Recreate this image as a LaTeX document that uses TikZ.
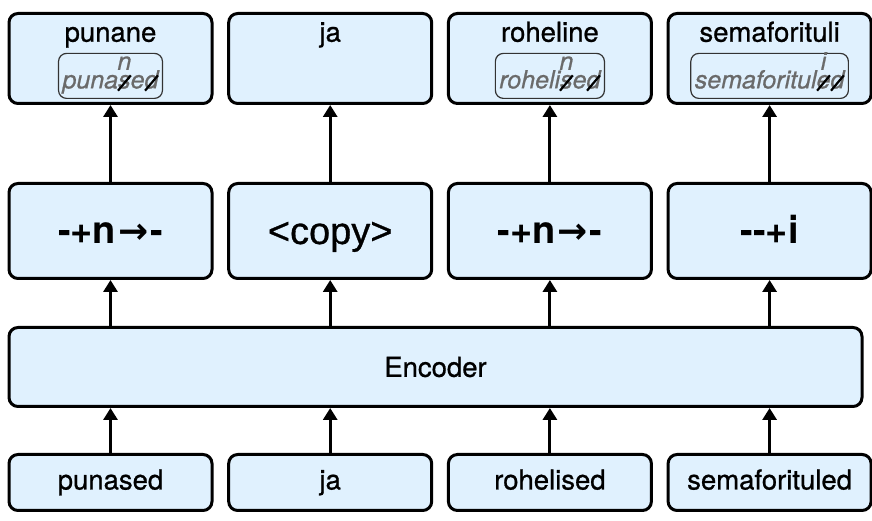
\documentclass[tikz,border=0pt]{standalone}
\usepackage{fontspec}
\setmainfont{TeX Gyre Heros}
\newfontfamily\medium[FakeBold=0.8]{TeX Gyre Heros}
\newfontfamily\bracketfont[FakeBold=0.8]{Liberation Sans}
\newfontfamily\arrowfont{DejaVu Sans}
\usetikzlibrary{arrows.meta,positioning}
\definecolor{boxFill}{HTML}{E0F1FE}
\definecolor{editGray}{HTML}{6A6A6A}
% struck-out letter, optionally with its replacement written above
\newcommand\slashout{\raisebox{-3pt}{\rotatebox{50}{\color{black}\rule{20pt}{2.2pt}}}}
\newcommand\xed[1]{\ooalign{#1\cr\hidewidth\slashout\hidewidth\cr}}
\newcommand\xedto[2]{\ooalign{#1\cr\hidewidth\slashout\hidewidth\cr
  \hidewidth\smash{\raisebox{18.5pt}{#2}}\hidewidth\cr}}
\newcommand\opArrow{\hspace{2pt}{\arrowfont\fontsize{36}{36}\selectfont →}\hspace{2pt}}

\begin{document}
\begin{tikzpicture}[x=1pt,y=1pt,
  box/.style={draw=black,line width=3pt,rounded corners=9pt,fill=boxFill,
              minimum width=203pt,inner sep=0pt},
  inbox/.style={box,minimum height=56pt,font=\medium\fontsize{27.5}{30}\selectfont,
                text height=20pt,text depth=6pt},
  encbox/.style={box,minimum width=853pt,minimum height=79pt,
                 font=\medium\fontsize{27.5}{30}\selectfont},
  opbox/.style={box,minimum height=95pt,font=\fontsize{38}{40}\selectfont\bfseries,
                text height=26pt,text depth=0pt},
  outbox/.style={box,minimum height=90pt},
  word/.style={inner sep=0pt,font=\medium\fontsize{27.5}{30}\selectfont,
               text height=20pt,text depth=6pt},
  editbox/.style={draw=black!80,line width=1.2pt,rounded corners=8pt,
               inner xsep=4pt,inner ysep=2pt,text=editGray,
               minimum height=45pt,
               font=\medium\fontsize{25}{28}\selectfont\itshape,
               text height=33pt,text depth=8pt},
  arr/.style={line width=3pt,-{Triangle[width=14pt,length=12pt]}}]
  \useasboundingbox (0,0) rectangle (872,521);

  % input words
  \node[inbox] (in1) at (110.5,38.5) {punased};
  \node[inbox,right=13.7pt of in1] (in2) {ja};
  \node[inbox,right=13.7pt of in2] (in3) {rohelised};
  \node[inbox,right=13.7pt of in3] (in4) {semaforituled};

  \node[encbox] (enc) at (435.5,154) {Encoder};

  % edit operations
  \node[opbox] (op1) at (110.5,290) {-+n\opArrow-};
  \node[opbox,right=13.7pt of op1] (op2) {\bracketfont\mdseries <copy>};
  \node[opbox,right=13.7pt of op2] (op3) {-+n\opArrow-};
  \node[opbox,right=13.7pt of op3] (op4) {-{}-+i};

  % outputs
  \node[outbox] (out1) at (110.5,462.5) {};
  \node[outbox,right=13.7pt of out1] (out2) {};
  \node[outbox,right=13.7pt of out2] (out3) {};
  \node[outbox,right=13.7pt of out3] (out4) {};
  \node[word,below=9.5pt of out1.north] (w1) {punane};
  \node[word,below=9.5pt of out2.north] (w2) {ja};
  \node[word,below=9.5pt of out3.north] (w3) {roheline};
  \node[word,below=9.5pt of out4.north] (w4) {semaforituli};
  \node[editbox,above=6pt of out1.south] (e1) {puna\xedto{s}{n}e\xed{d}};
  \node[editbox,above=6pt of out3.south] (e3) {roheli\xedto{s}{n}e\xed{d}};
  \node[editbox,above=6pt of out4.south] (e4) {semaforitul\xedto{e}{i}\xed{d}};

  \draw[arr] (in1) -- (in1 |- enc.south);
  \draw[arr] (in2) -- (in2 |- enc.south);
  \draw[arr] (in3) -- (in3 |- enc.south);
  \draw[arr] (in4) -- (in4 |- enc.south);
  \draw[arr] (op1 |- enc.north) -- (op1);
  \draw[arr] (op2 |- enc.north) -- (op2);
  \draw[arr] (op3 |- enc.north) -- (op3);
  \draw[arr] (op4 |- enc.north) -- (op4);
  \draw[arr] (op1) -- (op1 |- out1.south);
  \draw[arr] (op2) -- (op2 |- out2.south);
  \draw[arr] (op3) -- (op3 |- out3.south);
  \draw[arr] (op4) -- (op4 |- out4.south);
\end{tikzpicture}
\end{document}
